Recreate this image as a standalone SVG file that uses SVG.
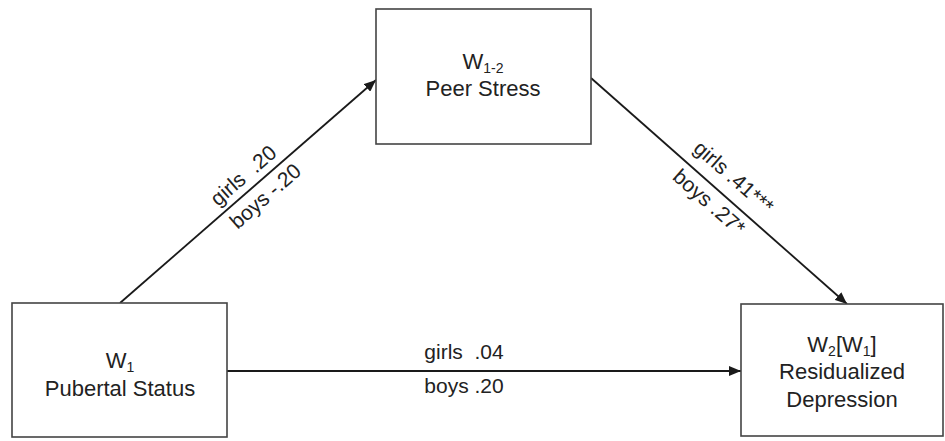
<svg xmlns="http://www.w3.org/2000/svg" width="945" height="441" viewBox="0 0 945 441">
<defs>
<marker id="ah" viewBox="0 0 12 10" refX="12" refY="5" markerWidth="12" markerHeight="10" markerUnits="userSpaceOnUse" orient="auto">
<path d="M0,0 L12,5 L0,10 Z" fill="#1a1a1a"/>
</marker>
</defs>
<style>
.box{fill:#fff;stroke:#444;stroke-width:1.6}
.edge{stroke:#1a1a1a;stroke-width:1.8;fill:none;marker-end:url(#ah)}
text{font-family:"Liberation Sans",Arial,sans-serif;fill:#222;white-space:pre}
.nt{font-size:22px;text-anchor:middle}
.lt{font-size:21px;text-anchor:middle}
.sub{font-size:14px}
</style>
<rect width="945" height="441" fill="#fff"/>
<g id="connectors">
<line class="edge" x1="120" y1="303" x2="376" y2="80"/>
<line class="edge" x1="591" y1="78" x2="847" y2="304"/>
<line class="edge" x1="227" y1="371" x2="741" y2="371"/>
</g>
<g id="labels">
<g transform="translate(248,191.5) rotate(-41)">
<text class="lt" x="7" y="-8" xml:space="preserve">girls  .20</text>
<text class="lt" x="10" y="22">boys -.20</text>
</g>
<g transform="translate(719,191) rotate(41.4)">
<text class="lt" x="2" y="-13">girls .41***</text>
<text class="lt" x="0" y="22">boys .27*</text>
</g>
<text class="lt" x="464" y="359" xml:space="preserve">girls  .04</text>
<text class="lt" x="464" y="393">boys .20</text>
</g>
<g id="peer">
<rect class="box" x="376" y="9" width="215" height="135"/>
<text class="nt" x="483" y="69">W<tspan class="sub" dy="4">1-2</tspan></text>
<text class="nt" x="483" y="96">Peer Stress</text>
</g>
<g id="pubertal">
<rect class="box" x="12" y="303" width="215" height="134"/>
<text class="nt" x="120" y="368">W<tspan class="sub" dy="4">1</tspan></text>
<text class="nt" x="120" y="396">Pubertal Status</text>
</g>
<g id="depression">
<rect class="box" x="741" y="304" width="202" height="132"/>
<text class="nt" x="842" y="352">W<tspan class="sub" dy="4">2</tspan><tspan dy="-4">[W</tspan><tspan class="sub" dy="4">1</tspan><tspan dy="-4">]</tspan></text>
<text class="nt" x="842" y="379">Residualized</text>
<text class="nt" x="842" y="407">Depression</text>
</g>
</svg>
